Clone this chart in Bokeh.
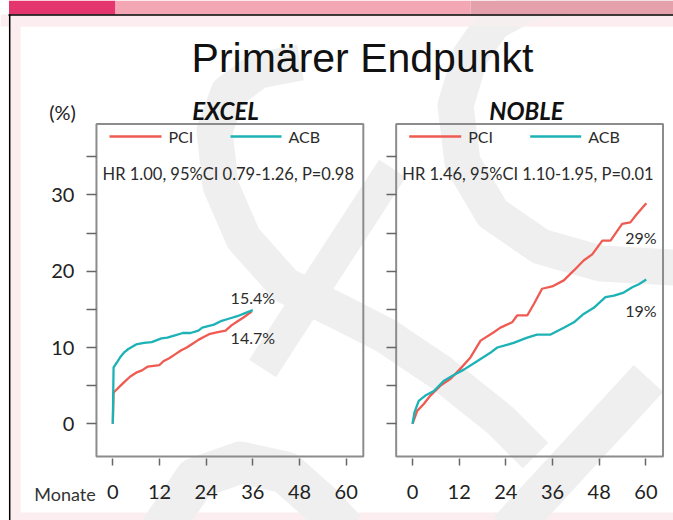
from bokeh.plotting import figure
from bokeh.models import Range1d, LinearAxis, FixedTicker
from bokeh.core.properties import value
from bokeh.embed import file_html
from bokeh.resources import INLINE

# ---------------- data ----------------
months_ticks = [0, 12, 24, 36, 48, 60]
pct_ticks = [0, 10, 20, 30]
pct_minor = [5, 15, 25, 35]

excel_pci_m = [0, 0.2, 1.0, 2.0, 3.0, 4.5, 6.0, 7.5, 9.0, 10.5, 12.0, 13.0, 14.5, 16.0, 17.5,
               19.0, 20.5, 22.0, 23.5, 25.0, 27.0, 29.0, 30.5, 32.0, 33.5, 35.7]
excel_pci_v = [0, 4.1, 4.5, 5.0, 5.5, 6.2, 6.7, 7.0, 7.5, 7.6, 7.7, 8.2, 8.6, 9.1, 9.6,
               10.0, 10.5, 11.0, 11.4, 11.8, 12.0, 12.2, 12.9, 13.4, 13.9, 14.7]
excel_acb_m = [0, 0.2, 1.0, 2.0, 3.0, 4.0, 5.0, 6.0, 8.0, 10.0, 11.0, 12.5, 14.0, 16.0, 18.0,
               20.0, 22.0, 23.0, 24.5, 26.0, 28.0, 30.0, 32.0, 34.0, 36.0]
excel_acb_v = [0, 7.4, 8.0, 8.8, 9.4, 9.8, 10.1, 10.4, 10.6, 10.7, 10.9, 11.2, 11.3, 11.6, 11.9,
               11.9, 12.2, 12.6, 12.8, 13.0, 13.5, 13.8, 14.1, 14.5, 14.9]

noble_pci_m = [0, 1.2, 2.9, 4.6, 7.2, 9.8, 11.9, 14.9, 17.5, 20.9, 22.6, 25.6, 26.9, 29.5, 31.2,
               33.3, 35.9, 38.9, 41.5, 44.0, 46.2, 48.8, 50.9, 53.9, 56.0, 57.7, 60.1]
noble_pci_v = [0, 1.7, 2.6, 3.7, 5.0, 5.9, 7.0, 8.7, 10.9, 12.0, 12.6, 13.3, 14.2, 14.2, 15.7,
               17.7, 18.0, 18.8, 20.1, 21.4, 22.2, 24.0, 24.0, 26.2, 26.4, 27.5, 28.9]
noble_acb_m = [0, 0.5, 1.6, 3.3, 5.5, 8.0, 10.6, 13.2, 16.6, 20.0, 21.8, 26.0, 29.5, 32.0, 35.5,
               38.9, 41.5, 44.0, 46.6, 49.6, 51.8, 54.3, 56.5, 58.2, 60.1]
noble_acb_v = [0, 1.5, 3.0, 3.7, 4.3, 5.6, 6.4, 7.1, 8.2, 9.3, 10.0, 10.6, 11.3, 11.7, 11.7,
               12.6, 13.3, 14.4, 15.2, 16.6, 16.8, 17.2, 17.9, 18.3, 18.9]

title_text = "Primärer Endpunkt"
trial_names = ["EXCEL", "NOBLE"]
series_names = ["PCI", "ACB"]
hr_texts = ["HR 1.00, 95%CI 0.79-1.26, P=0.98", "HR 1.46, 95%CI 1.10-1.95, P=0.01"]
end_labels_excel = ["15.4%", "14.7%"]
end_labels_noble = ["29%", "19%"]

# ---------------- styles / layout ----------------
RED = "#EF5B52"
TEAL = "#1DB2B6"
TXT = "#2B2B2B"
W, H = 673, 520
OX, OY = 0, 0
X0 = {"L": 112.3, "R": 412.0}      # x pixel of month 0 in each panel
PXM = 3.89                         # pixels per month
Y0, PXV = 423.3, 7.63              # y pixel of 0 %, pixels per %
FONT = value("Lato")

p = figure(width=W, height=H, x_range=Range1d(OX, OX + W), y_range=Range1d(OY + H, OY),
           min_border=0, toolbar_location=None, output_backend="svg",
           x_axis_location=None, y_axis_location=None)
p.outline_line_color = None
p.grid.grid_line_color = None
p.background_fill_color = "white"
p.border_fill_color = "white"

for k, x0 in X0.items():
    p.extra_x_ranges[k] = Range1d((OX - x0) / PXM, (OX + W - x0) / PXM)
p.extra_y_ranges["V"] = Range1d((Y0 - (OY + H)) / PXV, (Y0 - OY) / PXV)

# ---------------- page decoration ----------------
p.quad(left=[0], right=[680], top=[14], bottom=[26], fill_color="#FCEEF0", line_color=None)
p.quad(left=[9], right=[20], top=[14], bottom=[530], fill_color="#FCEEF0", line_color=None)
p.quad(left=[9], right=[680], top=[512], bottom=[530], fill_color="#FCEEF0", line_color=None)

wm = dict(line_color="#EFEFEF", line_join="round", line_cap="butt")
p.multi_line(xs=[[690, 580, 530, 493, 470, 455, 462, 492, 540, 600, 690]],
             ys=[[-6, -6, 2, 22, 55, 105, 162, 213, 246, 263, 268]], line_width=36, **wm)
p.multi_line(xs=[[300, 258, 228, 214, 220, 243, 285, 340, 385, 440, 500, 535]],
             ys=[[62, 70, 92, 130, 185, 238, 285, 312, 335, 372, 420, 455]], line_width=36, **wm)
p.multi_line(xs=[[392, 262]], ys=[[168, 368]], line_width=32, **wm)
p.multi_line(xs=[[648, 508]], ys=[[378, 530]], line_width=40, **wm)
p.multi_line(xs=[[160, 195, 240, 285, 322, 345]], ys=[[530, 478, 462, 472, 505, 530]],
             line_width=42, **wm)
p.quad(left=[20], right=[W + OX + 10], top=[14], bottom=[26], fill_color="#FCEEF0",
       line_color=None, fill_alpha=0.55)

p.quad(left=[8.5], right=[115], top=[0], bottom=[14], fill_color="#E5356F", line_color=None)
p.quad(left=[115], right=[470], top=[0], bottom=[14], fill_color="#F3A7B4", line_color=None)
p.quad(left=[470], right=[680], top=[0], bottom=[14], fill_color="#E4A0AB", line_color=None)
p.segment(x0=[8], y0=[14.5], x1=[680], y1=[14.5], line_color="black", line_width=1.5)
p.segment(x0=[9.2], y0=[14], x1=[9.2], y1=[530], line_color="black", line_width=1.5)

# ---------------- titles ----------------
p.text(x=[362], y=[57.5], text=[title_text], text_font=value("Liberation Sans"),
       text_font_size="41px", text_align="center", text_baseline="middle", text_color="#111111")
p.text(x=[62], y=[111], text=["(%)"], text_font=FONT, text_font_size="20px",
       text_align="center", text_baseline="middle", text_color="#222222")
p.text(x=[225, 526], y=[109.5, 109.5], text=trial_names, text_font=FONT, text_font_size="24px",
       text_font_style="bold italic", text_align="center", text_baseline="middle",
       text_color="#111111")
p.text(x=[64.5], y=[493], text=["Monate"], text_font=FONT, text_font_size="18px",
       text_align="center", text_baseline="middle", text_color="#333333")

# ---------------- panels ----------------
panels = [
    ("L", excel_pci_m, excel_pci_v, excel_acb_m, excel_acb_v, end_labels_excel,
     [(36.0, 16.55), (36.0, 11.3)], hr_texts[0], True),
    ("R", noble_pci_m, noble_pci_v, noble_acb_m, noble_acb_v, end_labels_noble,
     [(58.7, 24.4), (58.7, 14.9)], hr_texts[1], False),
]

for name, pm, pv, am, av, labels, lab_pos, hr, show_y in panels:
    rng = dict(x_range_name=name, y_range_name="V")
    x0 = X0[name]
    # frame box
    p.quad(left=[-4.2], right=[64.4], bottom=[-4.3], top=[39.3], fill_color=None,
           line_color="#8C8C8C", line_width=2, **rng)
    # curves
    p.line(pm, pv, line_color=RED, line_width=2.3, **rng)
    p.line(am, av, line_color=TEAL, line_width=2.3, **rng)
    # end labels
    p.text(x=[q[0] for q in lab_pos], y=[q[1] for q in lab_pos], text=labels,
           text_font=FONT, text_font_size="16px", text_align="center",
           text_baseline="middle", text_color=TXT, **rng)
    # legend (screen positions)
    lx = x0 - 3.3
    p.segment(x0=[lx, lx + 121], y0=[136, 136], x1=[lx + 52, lx + 172], y1=[136, 136],
              line_color=[RED, TEAL], line_width=2.3)
    p.text(x=[lx + 59, lx + 179], y=[136, 136], text=series_names, text_font=FONT,
           text_font_size="16px", text_align="left", text_baseline="middle",
           text_color=TXT)
    p.text(x=[x0 + 115.5], y=[173], text=[hr], text_font=FONT, text_font_size="16.5px",
           text_align="center", text_baseline="middle", text_color=TXT)

    # axes
    yax = LinearAxis(fixed_location=-4.2, ticker=FixedTicker(ticks=pct_ticks, minor_ticks=pct_minor),
                     axis_line_color=None, major_tick_in=0, major_tick_out=10,
                     minor_tick_in=0, minor_tick_out=10,
                     major_tick_line_color="#666666", minor_tick_line_color="#666666",
                     major_tick_line_width=1.5, minor_tick_line_width=1.5,
                     major_label_standoff=12, major_label_text_font="Lato",
                     major_label_text_font_size="20px", major_label_text_color="#222222", **rng)
    if not show_y:
        yax.major_label_overrides = {t: "" for t in pct_ticks}
    p.add_layout(yax, "left")
    xax = LinearAxis(fixed_location=-4.56, ticker=FixedTicker(ticks=months_ticks),
                     axis_line_color=None, major_tick_in=0, major_tick_out=7,
                     minor_tick_line_color=None,
                     major_tick_line_color="#666666", major_tick_line_width=1.5,
                     major_label_standoff=19, major_label_text_font="Lato",
                     major_label_text_font_size="20px", major_label_text_color="#222222", **rng)
    p.add_layout(xax, "below")

open("out.html", "w").write(file_html(p, INLINE))
